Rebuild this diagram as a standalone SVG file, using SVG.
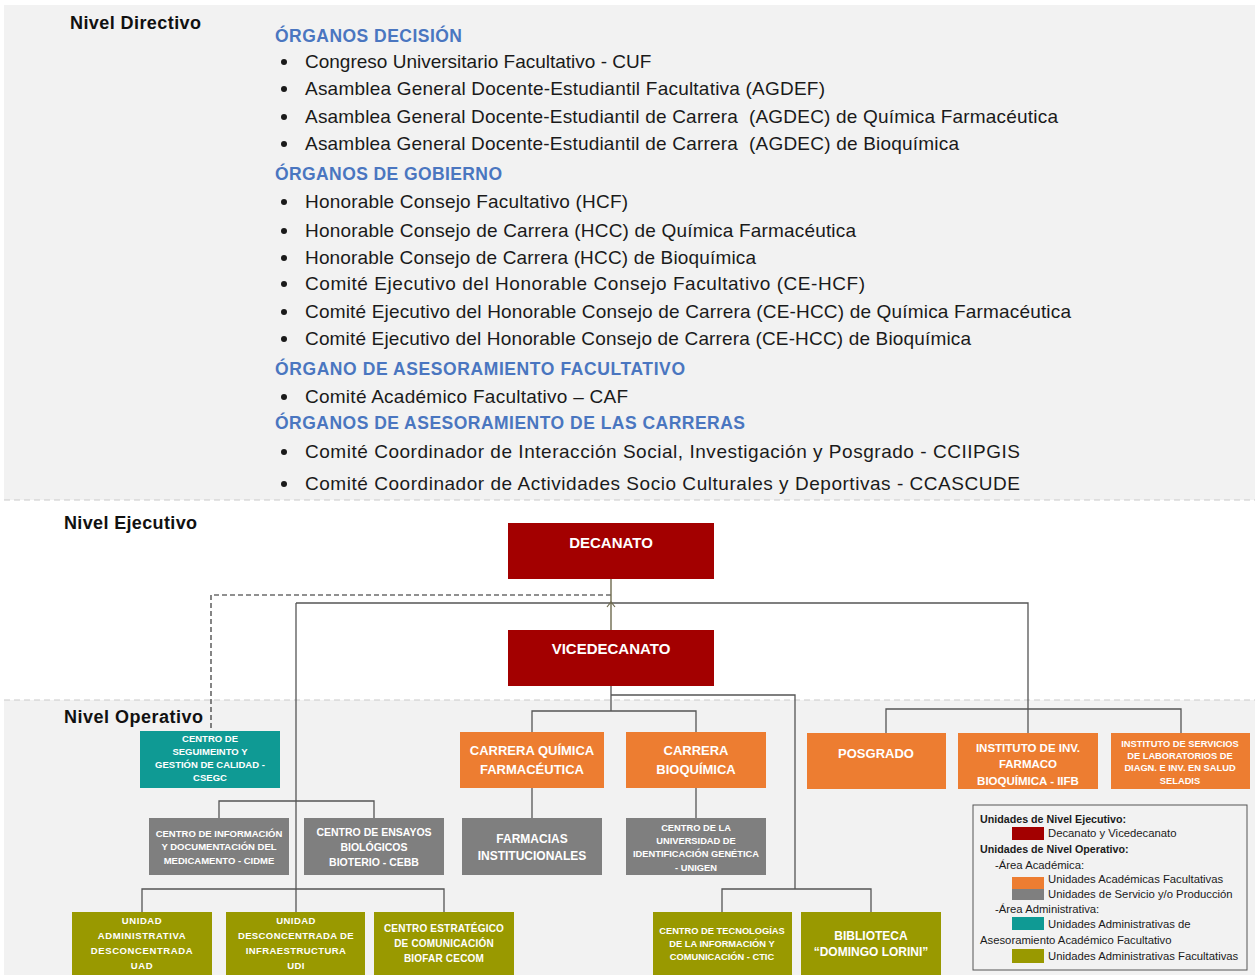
<svg xmlns="http://www.w3.org/2000/svg" width="1255" height="975" viewBox="0 0 1255 975">
  <style>
    .band { fill: #f2f2f2; }
    .sep { stroke: #c9c9c9; stroke-width: 1.2; stroke-dasharray: 6 4; fill: none; }
    .lvl { font-family: "Liberation Sans", Arial, sans-serif; font-weight: bold; font-size: 18px; fill: #111; }
    .hd { font-family: "Liberation Sans", Arial, sans-serif; font-weight: bold; font-size: 17.5px; fill: #4a76c0; }
    .it { font-family: "Liberation Sans", Arial, sans-serif; font-size: 19px; fill: #1a1a1a; }
    .bul { fill: #1a1a1a; }
    .ln { stroke: #555; stroke-width: 1.3; fill: none; }
    .dash { stroke: #222; stroke-width: 1.1; stroke-dasharray: 5 3; fill: none; }
    .red { fill: #a30000; }
    .ora { fill: #ed7d31; }
    .gry { fill: #7f7f7f; }
    .tea { fill: #0f9a94; }
    .oli { fill: #999900; }
    .bt { font-family: "Liberation Sans", Arial, sans-serif; font-weight: bold; fill: #fff; text-anchor: middle; }
    .lg { font-family: "Liberation Sans", Arial, sans-serif; font-size: 11.3px; fill: #1a1a1a; }
    .lgb { font-family: "Liberation Sans", Arial, sans-serif; font-size: 10.7px; font-weight: bold; fill: #1a1a1a; }
  </style>

  <!-- level bands -->
  <rect class="band" x="4" y="5" width="1251" height="495"/>
  <rect class="band" x="4" y="700" width="1251" height="275"/>
  <line class="sep" x1="4" y1="500" x2="1255" y2="500"/>
  <line class="sep" x1="4" y1="700" x2="1255" y2="700"/>

  <text class="lvl" x="70" y="29" textLength="131">Nivel Directivo</text>
  <text class="lvl" x="64" y="529" textLength="133">Nivel Ejecutivo</text>
  <text class="lvl" x="64" y="723" textLength="139">Nivel Operativo</text>

  <!-- directive bodies list -->
  <g id="directivo">
    <text class="hd" x="275" y="42" textLength="187">ÓRGANOS DECISIÓN</text>
    <g class="bul">
      <circle cx="284" cy="62" r="3"/><circle cx="284" cy="89" r="3"/><circle cx="284" cy="117" r="3"/><circle cx="284" cy="144" r="3"/>
      <circle cx="284" cy="202" r="3"/><circle cx="284" cy="231" r="3"/><circle cx="284" cy="258" r="3"/><circle cx="284" cy="284" r="3"/>
      <circle cx="284" cy="312" r="3"/><circle cx="284" cy="339" r="3"/>
      <circle cx="284" cy="397" r="3"/><circle cx="284" cy="452" r="3"/><circle cx="284" cy="484" r="3"/>
    </g>
    <text class="it" x="305" y="68">Congreso Universitario Facultativo - CUF</text>
    <text class="it" x="305" y="95" textLength="520">Asamblea General Docente-Estudiantil Facultativa (AGDEF)</text>
    <text class="it" x="305" y="123" textLength="753" xml:space="preserve">Asamblea General Docente-Estudiantil de Carrera  (AGDEC) de Química Farmacéutica</text>
    <text class="it" x="305" y="150" textLength="654" xml:space="preserve">Asamblea General Docente-Estudiantil de Carrera  (AGDEC) de Bioquímica</text>
    <text class="hd" x="275" y="180" textLength="227">ÓRGANOS DE GOBIERNO</text>
    <text class="it" x="305" y="208" textLength="323">Honorable Consejo Facultativo (HCF)</text>
    <text class="it" x="305" y="237" textLength="551">Honorable Consejo de Carrera (HCC) de Química Farmacéutica</text>
    <text class="it" x="305" y="264" textLength="451">Honorable Consejo de Carrera (HCC) de Bioquímica</text>
    <text class="it" x="305" y="290" textLength="560">Comité Ejecutivo del Honorable Consejo Facultativo (CE-HCF)</text>
    <text class="it" x="305" y="318" textLength="766">Comité Ejecutivo del Honorable Consejo de Carrera (CE-HCC) de Química Farmacéutica</text>
    <text class="it" x="305" y="345" textLength="666">Comité Ejecutivo del Honorable Consejo de Carrera (CE-HCC) de Bioquímica</text>
    <text class="hd" x="275" y="375" textLength="410">ÓRGANO DE ASESORAMIENTO FACULTATIVO</text>
    <text class="it" x="305" y="403" textLength="323">Comité Académico Facultativo – CAF</text>
    <text class="hd" x="275" y="429" textLength="470">ÓRGANOS DE ASESORAMIENTO DE LAS CARRERAS</text>
    <text class="it" x="305" y="458" textLength="715">Comité Coordinador de Interacción Social, Investigación y Posgrado - CCIIPGIS</text>
    <text class="it" x="305" y="490" textLength="715">Comité Coordinador de Actividades Socio Culturales y Deportivas - CCASCUDE</text>
  </g>

  <!-- connectors -->
  <g id="connectors">
    <path class="dash" d="M611,595 H211 V731"/>
    <path class="ln" d="M296,603 H1028 V733"/>
    <path class="ln" d="M296,603 V912"/>
    <path class="ln" d="M219,818 V801 H374 V818"/>
    <path class="ln" d="M142,912 V889 H444 V912"/>
    <path d="M611,579 V630" stroke="#6e6a4e" stroke-width="1.4" fill="none"/>
    <path d="M607,607 L611,602 L615,607" stroke="#6e6a4e" stroke-width="1.2" fill="none"/>
    <path class="ln" d="M611,686 V711"/>
    <path class="ln" d="M532,732 V711 H696 V732"/>
    <path class="ln" d="M611,695 H795 V889"/>
    <path class="ln" d="M722,912 V889 H871 V912"/>
    <path class="ln" d="M532,788 V818"/>
    <path class="ln" d="M696,788 V818"/>
    <path class="ln" d="M886,733 V709 H1181 V733"/>
  </g>

  <!-- executive level -->
  <g id="decanato">
    <rect class="red" x="508" y="523" width="206" height="56"/>
    <text class="bt" x="611" y="548" font-size="15">DECANATO</text>
  </g>
  <g id="vicedecanato">
    <rect class="red" x="508" y="630" width="206" height="56"/>
    <text class="bt" x="611" y="654" font-size="15">VICEDECANATO</text>
  </g>

  <!-- operative level -->
  <g id="csegc">
    <rect class="tea" x="140" y="731" width="140" height="57"/>
    <text class="bt" font-size="9.5"><tspan x="210" y="742">CENTRO DE</tspan><tspan x="210" y="755">SEGUIMEINTO Y</tspan><tspan x="210" y="768">GESTIÓN DE CALIDAD -</tspan><tspan x="210" y="781">CSEGC</tspan></text>
  </g>
  <g id="carrera-qf">
    <rect class="ora" x="460" y="732" width="144" height="56"/>
    <text class="bt" font-size="13"><tspan x="532" y="755">CARRERA QUÍMICA</tspan><tspan x="532" y="774">FARMACÉUTICA</tspan></text>
  </g>
  <g id="carrera-bq">
    <rect class="ora" x="626" y="732" width="140" height="56"/>
    <text class="bt" font-size="13"><tspan x="696" y="755">CARRERA</tspan><tspan x="696" y="774">BIOQUÍMICA</tspan></text>
  </g>
  <g id="posgrado">
    <rect class="ora" x="807" y="733" width="139" height="56"/>
    <text class="bt" x="876" y="758" font-size="13">POSGRADO</text>
  </g>
  <g id="iifb">
    <rect class="ora" x="958" y="733" width="140" height="56"/>
    <text class="bt" font-size="11.5"><tspan x="1028" y="752">INSTITUTO DE INV.</tspan><tspan x="1028" y="768">FARMACO</tspan><tspan x="1028" y="785">BIOQUÍMICA - IIFB</tspan></text>
  </g>
  <g id="seladis">
    <rect class="ora" x="1111" y="733" width="139" height="56"/>
    <text class="bt" font-size="9.3"><tspan x="1180" y="747">INSTITUTO DE SERVICIOS</tspan><tspan x="1180" y="759">DE LABORATORIOS DE</tspan><tspan x="1180" y="771">DIAGN. E INV. EN SALUD</tspan><tspan x="1180" y="784">SELADIS</tspan></text>
  </g>
  <g id="cidme">
    <rect class="gry" x="149" y="818" width="140" height="57"/>
    <text class="bt" font-size="9.5"><tspan x="219" y="837">CENTRO DE INFORMACIÓN</tspan><tspan x="219" y="850">Y DOCUMENTACIÓN DEL</tspan><tspan x="219" y="864">MEDICAMENTO - CIDME</tspan></text>
  </g>
  <g id="cebb">
    <rect class="gry" x="304" y="818" width="140" height="57"/>
    <text class="bt" font-size="10.5"><tspan x="374" y="836">CENTRO DE ENSAYOS</tspan><tspan x="374" y="851">BIOLÓGICOS</tspan><tspan x="374" y="866">BIOTERIO - CEBB</tspan></text>
  </g>
  <g id="farmacias">
    <rect class="gry" x="462" y="818" width="140" height="57"/>
    <text class="bt" font-size="12"><tspan x="532" y="843">FARMACIAS</tspan><tspan x="532" y="860">INSTITUCIONALES</tspan></text>
  </g>
  <g id="unigen">
    <rect class="gry" x="626" y="818" width="140" height="57"/>
    <text class="bt" font-size="9.3"><tspan x="696" y="831">CENTRO DE LA</tspan><tspan x="696" y="844">UNIVERSIDAD DE</tspan><tspan x="696" y="857">IDENTIFICACIÓN GENÉTICA</tspan><tspan x="696" y="871">- UNIGEN</tspan></text>
  </g>
  <g id="uad">
    <rect class="oli" x="72" y="912" width="140" height="63"/>
    <text class="bt" font-size="9.5" letter-spacing="0.6"><tspan x="142" y="924">UNIDAD</tspan><tspan x="142" y="939">ADMINISTRATIVA</tspan><tspan x="142" y="954">DESCONCENTRADA</tspan><tspan x="142" y="969">UAD</tspan></text>
  </g>
  <g id="udi">
    <rect class="oli" x="226" y="912" width="139" height="63"/>
    <text class="bt" font-size="9.5" letter-spacing="0.4"><tspan x="296" y="924">UNIDAD</tspan><tspan x="296" y="939">DESCONCENTRADA DE</tspan><tspan x="296" y="954">INFRAESTRUCTURA</tspan><tspan x="296" y="969">UDI</tspan></text>
  </g>
  <g id="cecom">
    <rect class="oli" x="374" y="912" width="140" height="63"/>
    <text class="bt" font-size="10" letter-spacing="0.2"><tspan x="444" y="932">CENTRO ESTRATÉGICO</tspan><tspan x="444" y="947">DE COMUNICACIÓN</tspan><tspan x="444" y="962">BIOFAR CECOM</tspan></text>
  </g>
  <g id="ctic">
    <rect class="oli" x="653" y="912" width="139" height="63"/>
    <text class="bt" font-size="9.3"><tspan x="722" y="934">CENTRO DE TECNOLOGÍAS</tspan><tspan x="722" y="947">DE LA INFORMACIÓN Y</tspan><tspan x="722" y="960">COMUNICACIÓN - CTIC</tspan></text>
  </g>
  <g id="biblioteca">
    <rect class="oli" x="801" y="912" width="140" height="63"/>
    <text class="bt" font-size="12"><tspan x="871" y="940">BIBLIOTECA</tspan><tspan x="871" y="956">“DOMINGO LORINI”</tspan></text>
  </g>

  <!-- colour key -->
  <g id="legend">
    <rect x="973" y="805" width="274" height="165" fill="#f2f2f2" stroke="#555" stroke-width="1"/>
    <text class="lgb" x="980" y="823">Unidades de Nivel Ejecutivo:</text>
    <rect class="red" x="1012" y="827" width="32" height="13"/>
    <text class="lg" x="1048" y="837">Decanato y Vicedecanato</text>
    <text class="lgb" x="980" y="853">Unidades de Nivel Operativo:</text>
    <text class="lg" x="995" y="869">-Área Académica:</text>
    <rect class="ora" x="1012" y="877" width="32" height="12"/>
    <rect class="gry" x="1012" y="889" width="32" height="11"/>
    <text class="lg" x="1048" y="883">Unidades Académicas Facultativas</text>
    <text class="lg" x="1048" y="898">Unidades de Servicio y/o Producción</text>
    <text class="lg" x="995" y="913">-Área Administrativa:</text>
    <rect class="tea" x="1012" y="917" width="32" height="13"/>
    <text class="lg" x="1048" y="928">Unidades Administrativas de</text>
    <text class="lg" x="980" y="944">Asesoramiento Académico Facultativo</text>
    <rect class="oli" x="1012" y="949" width="32" height="14"/>
    <text class="lg" x="1048" y="960">Unidades Administrativas Facultativas</text>
  </g>
</svg>
